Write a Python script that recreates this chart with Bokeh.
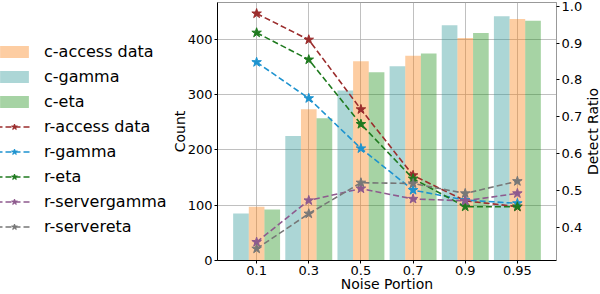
import math
from bokeh.plotting import figure
from bokeh.layouts import row
from bokeh.models import (Range1d, FactorRange, LinearAxis, Legend, LegendItem,
                          ColumnDataSource, FixedTicker, PrintfTickFormatter)
from bokeh.core.properties import value
from bokeh.transform import dodge
from bokeh.embed import file_html
from bokeh.resources import INLINE

portions = ["0.1", "0.3", "0.5", "0.7", "0.9", "0.95"]

c_gamma = [85, 225, 307, 351, 425, 441]
c_access = [97, 273, 360, 370, 402, 436]
c_eta = [92, 257, 340, 374, 411, 433]

r_access = [0.980, 0.909, 0.720, 0.541, 0.472, 0.456]
r_gamma = [0.848, 0.750, 0.614, 0.501, 0.474, 0.465]
r_eta = [0.928, 0.855, 0.680, 0.532, 0.456, 0.456]
r_servergamma = [0.360, 0.473, 0.505, 0.477, 0.472, 0.492]
r_servereta = [0.342, 0.437, 0.521, 0.519, 0.492, 0.525]

count_ticks = [0, 100, 200, 300, 400]
ratio_ticks = [0.4, 0.5, 0.6, 0.7, 0.8, 0.9, 1.0]

FONT = "DejaVu Sans"
W = 600
H = 294
LEG_W = 168
RL_W = 15

src = ColumnDataSource(dict(x=portions, cg=c_gamma, ca=c_access, ce=c_eta,
                            ra=r_access, rg=r_gamma, re=r_eta,
                            rsg=r_servergamma, rse=r_servereta))

p = figure(width=W - LEG_W - RL_W, height=H, x_range=FactorRange(*portions),
           y_range=Range1d(0, 466), output_backend="svg", toolbar_location=None,
           min_border_left=48, min_border_right=23, min_border_top=2,
           min_border_bottom=20)
p.x_range.range_padding = 0.25
p.x_range.range_padding_units = "absolute"
p.extra_y_ranges = {"ratio": Range1d(0.31, 1.01)}

bar_specs = [("cg", -0.3, "#309999", "c-gamma"),
             ("ca", 0.0, "#FA8216", "c-access data"),
             ("ce", 0.3, "#20911C", "c-eta")]
for col, off, color, label in bar_specs:
    p.vbar(x=dodge("x", off, range=p.x_range), top=col, width=0.3, source=src,
           fill_color=color, fill_alpha=0.4, line_color=None)

line_specs = [("ra", "#9B2D2D", "r-access data"),
              ("rg", "#1E93CF", "r-gamma"),
              ("re", "#1F7A1F", "r-eta"),
              ("rsg", "#8E5A8E", "r-servergamma"),
              ("rse", "#777777", "r-servereta")]
for col, color, label in line_specs:
    p.line("x", col, source=src, y_range_name="ratio", line_color=color,
           line_width=1.6, line_dash="6 3")
    p.scatter("x", col, source=src, y_range_name="ratio", marker="star",
              size=10, fill_color=color, line_color=color)

# axes
p.xaxis.axis_label = "Noise Portion"
p.yaxis.axis_label = "Count"
p.yaxis.ticker = FixedTicker(ticks=count_ticks)
right = LinearAxis(y_range_name="ratio",
                   ticker=FixedTicker(ticks=ratio_ticks),
                   formatter=PrintfTickFormatter(format="%.1f"))
p.add_layout(right, "right")

for ax in [p.xaxis[0], p.yaxis[0], right]:
    ax.axis_label_text_font = FONT
    ax.axis_label_text_font_size = "14px"
    ax.axis_label_text_font_style = "normal"
    ax.axis_label_text_color = "#000000"
    ax.axis_label_text_line_height = 1.0
    ax.major_label_text_font = FONT
    ax.major_label_text_font_size = "13px"
    ax.major_label_text_color = "#000000"
    ax.major_label_text_line_height = 1.0
    ax.major_tick_out = 3
    ax.major_tick_in = 0
    ax.minor_tick_out = 0
    ax.minor_tick_in = 0
    ax.major_label_standoff = 2
    ax.axis_line_color = "#000000"
    ax.major_tick_line_color = "#000000"
p.xaxis.axis_label_standoff = -2
p.yaxis.axis_label_standoff = -3
right.axis_line_color = "#999999"

p.xgrid.grid_line_color = "#b0b0b0"
p.ygrid.grid_line_color = "#b0b0b0"
p.xgrid.grid_line_width = 0.8
p.ygrid.grid_line_width = 0.8
p.outline_line_color = "#999999"
p.background_fill_color = "white"
p.border_fill_color = "white"

# legend panel (separate figure to the left of the chart)
lf = figure(width=LEG_W, height=H, x_range=Range1d(0, 1), y_range=Range1d(0, 1),
            output_backend="svg", toolbar_location=None,
            x_axis_location=None, y_axis_location=None,
            min_border=0, outline_line_color=None)
lf.grid.visible = False
nan = float("nan")
leg_bars = {}
for col, off, color, label in bar_specs:
    leg_bars[label] = lf.vbar(x=[nan], top=[nan], width=0.3, fill_color=color,
                              fill_alpha=0.4, line_color=None)
items = [LegendItem(label=lab, renderers=[leg_bars[lab]])
         for lab in ["c-access data", "c-gamma", "c-eta"]]
for col, color, label in line_specs:
    l = lf.line([nan], [nan], line_color=color, line_width=1.6, line_dash="6 3")
    s = lf.scatter([nan], [nan], marker="star", size=10, fill_color=color,
                   line_color=color)
    items.append(LegendItem(label=label, renderers=[l, s]))

legend = Legend(items=items, location=(-4, 24), padding=0, margin=0,
                border_line_color=None, background_fill_alpha=0,
                glyph_width=36, glyph_height=15, label_height=20, spacing=5,
                label_standoff=12, label_text_font=FONT, label_text_font_size="16px",
                label_text_color="#000000")
lf.add_layout(legend, "center")

# right axis title panel (reads bottom-to-top like the original)
rf = figure(width=RL_W, height=H, x_range=Range1d(0, 1), y_range=Range1d(0, 1),
            output_backend="svg", toolbar_location=None,
            x_axis_location=None, y_axis_location=None,
            min_border=0, outline_line_color=None)
rf.grid.visible = False
rf.text(x=[0.5], y=[0.5], text=["Detect Ratio"], angle=math.pi / 2,
        text_align="center", text_baseline="middle", text_font=value(FONT),
        text_font_size=value("14px"), text_color="#000000")

open("out.html", "w").write(file_html(row(lf, p, rf), INLINE))
